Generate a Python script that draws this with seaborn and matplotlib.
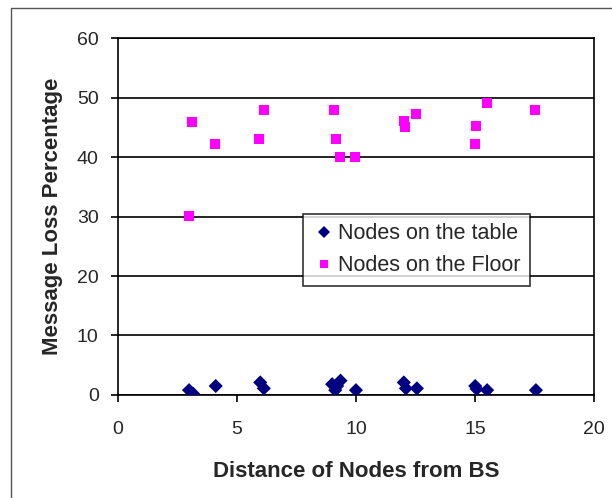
import pandas as pd
import matplotlib.pyplot as plt
import seaborn as sns
from matplotlib.lines import Line2D

# Data
table_x = [2.98, 3.15, 4.1, 5.97, 6.12, 8.99, 9.12, 9.2, 9.34, 9.99,
           12.0, 12.09, 12.55, 15.0, 15.06, 15.5, 17.55]
table_y = [0.8, 0.2, 1.5, 2.1, 1.1, 1.8, 0.8, 1.5, 2.4, 0.8,
           2.1, 1.1, 1.1, 1.5, 1.0, 0.8, 0.8]

floor_x = [3.1, 2.97, 4.08, 5.92, 6.11, 9.07, 9.15, 9.31, 9.97,
           12.0, 12.07, 12.52, 14.98, 15.05, 15.5, 17.52]
floor_y = [46.0, 30.1, 42.2, 43.1, 48.0, 48.0, 43.1, 40.1, 40.1,
           46.1, 45.1, 47.2, 42.3, 45.2, 49.1, 48.0]

series = ['Nodes on the table', 'Nodes on the Floor']

df = pd.concat([
    pd.DataFrame({'x': table_x, 'y': table_y, 'Series': series[0]}),
    pd.DataFrame({'x': floor_x, 'y': floor_y, 'Series': series[1]}),
])

sns.set_style('white')
plt.rcParams['font.family'] = ['Liberation Sans', 'DejaVu Sans']

fig = plt.figure(figsize=(6.12, 4.98), dpi=100)
ax = fig.add_axes([0.193, 0.207, 0.778, 0.716])

sns.scatterplot(data=df, x='x', y='y', hue='Series', style='Series',
                palette={series[0]: '#000080', series[1]: '#FF00FF'},
                markers={series[0]: 'D', series[1]: 's'},
                s=52, linewidth=0, ax=ax, zorder=3)

ax.set_xlim(0, 20)
ax.set_ylim(0, 60)
ax.set_xticks([0, 5, 10, 15, 20])
ax.set_yticks([0, 10, 20, 30, 40, 50, 60])
ax.yaxis.grid(True, color='black', linewidth=1.2)
ax.set_axisbelow(True)
for sp in ax.spines.values():
    sp.set_color('black')
    sp.set_linewidth(1.2)
ax.tick_params(axis='both', direction='out', length=5, width=1.2,
               color='black', labelsize=14, bottom=True, left=True)
ax.tick_params(axis='x', pad=14)
ax.tick_params(axis='y', pad=9)

ax.set_xlabel('Distance of Nodes from BS', fontsize=16, fontweight='bold', labelpad=16)
ax.set_ylabel('Message Loss Percentage', fontsize=16, fontweight='bold', labelpad=10)

leg = ax.legend(loc='upper left', bbox_to_anchor=(0.389, 0.508), fontsize=15.5,
                frameon=True, fancybox=False, edgecolor='black', borderaxespad=0,
                handletextpad=0.15, handlelength=1.0, borderpad=0.45,
                labelspacing=0.5, markerscale=0.8)
leg.get_frame().set_linewidth(1.2)

# thin border around the chart area
fig.add_artist(Line2D([11 / 612, 11 / 612], [0, 1 - 8 / 498], color='#555555', lw=1))
fig.add_artist(Line2D([11 / 612, 1], [1 - 8 / 498, 1 - 8 / 498], color='#555555', lw=1))

fig.savefig('out.png', dpi=100)
